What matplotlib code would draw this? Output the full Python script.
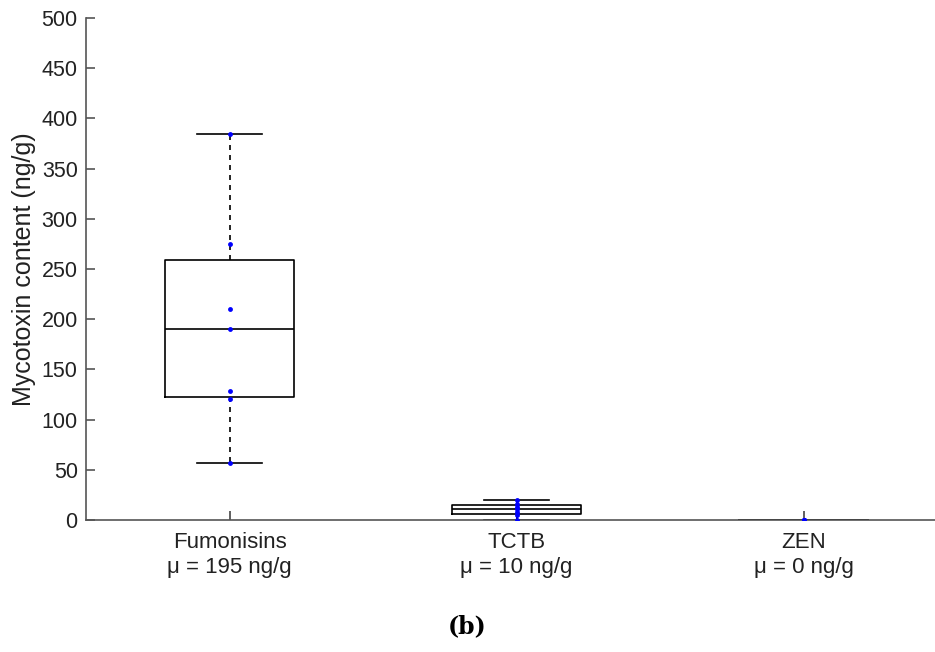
import numpy as np
import matplotlib
matplotlib.use("Agg")
import matplotlib.pyplot as plt

# valores (ng/g)
categorias = ["Fumonisins", "TCTB", "ZEN"]
fumonisinas = [384, 275, 210, 190, 128, 120, 57]
tctb = [0, 5, 8, 11, 13, 16, 20]
zen = [0, 0, 0, 0, 0, 0, 0]
yticks = [0, 50, 100, 150, 200, 250, 300, 350, 400, 450, 500]

datos = [fumonisinas, tctb, zen]

plt.rcParams['font.family'] = ['Liberation Sans', 'DejaVu Sans']

fig = plt.figure(figsize=(9.35, 6.52), dpi=100)
ax = fig.add_axes([0.092, 0.2025, 0.921, 0.770])

# cuartiles estilo MATLAB (metodo hazen)
stats = []
for nombre, v in zip(categorias, datos):
    v = np.array(v, dtype=float)
    q1 = np.percentile(v, 25, method='hazen')
    q3 = np.percentile(v, 75, method='hazen')
    stats.append(dict(med=np.median(v), q1=q1, q3=q3,
                      whislo=v.min(), whishi=v.max(), fliers=[], label=nombre))

pos = np.arange(1, len(datos) + 1)
ax.bxp(stats, positions=pos, widths=0.45, showfliers=False,
       boxprops=dict(color='black', linewidth=1.2),
       medianprops=dict(color='black', linewidth=1.2),
       whiskerprops=dict(color='black', linewidth=1.2, linestyle=(0, (3, 3))),
       capprops=dict(color='black', linewidth=1.2))

for p, v in zip(pos, datos):
    ax.plot(np.full(len(v), p), v, 'o', color='blue', markersize=3.5,
            markeredgewidth=0, zorder=5)

etiquetas = [f"{c}\nμ = {np.mean(v):.0f} ng/g" for c, v in zip(categorias, datos)]
ax.set_xticks(pos)
ax.set_xticklabels(etiquetas, fontsize=16, color='#222222', linespacing=1.25)
ax.tick_params(axis='x', direction='in', length=6.5, width=1.2,
               color='#444444', pad=9)

ax.set_xlim(0.5, 3.5)
ax.set_ylim(0, 500)
ax.set_yticks(yticks)
ax.tick_params(axis='y', direction='in', length=6.5, labelsize=15.5,
               labelcolor='#222222', color='#555555', width=1.2, pad=6)
ax.set_ylabel("Mycotoxin content (ng/g)", fontsize=18, color='#222222',
              labelpad=4)

for lado in ['top', 'right']:
    ax.spines[lado].set_visible(False)
for lado in ['left', 'bottom']:
    ax.spines[lado].set_color('#555555')
    ax.spines[lado].set_linewidth(1.2)

fig.text(0.5, 0.04, "(b)", ha='center', va='center', fontsize=17,
         fontweight='bold', family=['DejaVu Serif'])

fig.savefig("out.png", dpi=100)
